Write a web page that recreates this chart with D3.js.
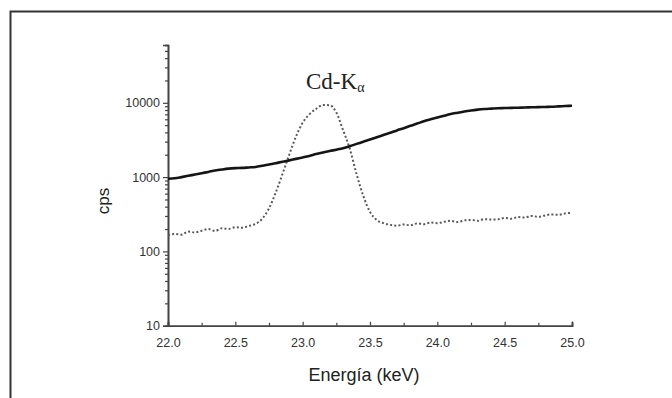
<!DOCTYPE html>
<html>
<head>
<meta charset="utf-8">
<script src="https://cdn.jsdelivr.net/npm/d3@7"></script>
<style>
  body { margin: 0; background: #fff; }
  .axis path, .axis line { stroke: #444; }
  .axis text { font-family: "Liberation Sans", Arial, sans-serif; font-size: 12.5px; fill: #333; }
</style>
</head>
<body>
<div id="chart"></div>
<script>
// energy grid (keV)
let energy = [22.00, 22.05, 22.10, 22.15, 22.20, 22.25, 22.30, 22.35, 22.40, 22.45,
  22.50, 22.55, 22.60, 22.65, 22.70, 22.75, 22.80, 22.85, 22.90, 22.95,
  23.00, 23.05, 23.10, 23.15, 23.20, 23.25, 23.30, 23.35, 23.40, 23.45,
  23.50, 23.55, 23.60, 23.65, 23.70, 23.75, 23.80, 23.85, 23.90, 23.95,
  24.00, 24.05, 24.10, 24.15, 24.20, 24.25, 24.30, 24.35, 24.40, 24.45,
  24.50, 24.55, 24.60, 24.65, 24.70, 24.75, 24.80, 24.85, 24.90, 24.95, 25.00];

// solid trace (cps)
let solidCps = [950, 965, 1000, 1040, 1085, 1130, 1175, 1225, 1265, 1300,
  1320, 1330, 1350, 1370, 1420, 1480, 1540, 1610, 1680, 1760,
  1840, 1930, 2040, 2140, 2240, 2340, 2450, 2600, 2800, 3000,
  3200, 3450, 3700, 3950, 4250, 4550, 4900, 5250, 5650, 6000,
  6350, 6700, 7050, 7350, 7650, 7900, 8100, 8250, 8350, 8450,
  8500, 8550, 8600, 8650, 8700, 8750, 8800, 8850, 8950, 9050, 9150];

// dotted trace (cps) with the Cd-K alpha peak
let dottedCps = [165, 172, 168, 185, 180, 190, 200, 188, 205, 200,
  212, 208, 220, 235, 275, 380, 620, 1100, 2000, 3500,
  5400, 7000, 8300, 9350, 9300, 7400, 4300, 2400, 1100, 560,
  340, 265, 240, 228, 222, 230, 225, 238, 232, 245,
  240, 250, 258, 248, 262, 265, 258, 272, 268, 270,
  282, 275, 290, 285, 300, 292, 305, 315, 310, 325, 330];

let xTicks = [22.0, 22.5, 23.0, 23.5, 24.0, 24.5, 25.0];
let xMinorTicks = [22.25, 22.75, 23.25, 23.75, 24.25, 24.75];
let yTicks = [10, 100, 1000, 10000];

let width = 672, height = 398;
let margin = { top: 45, right: 100, bottom: 72, left: 168 };

let svg = d3.select("#chart").append("svg")
  .attr("width", width)
  .attr("height", height);

// outer frame
svg.append("rect")
  .attr("x", 10.5).attr("y", 11.5)
  .attr("width", 700).attr("height", 420)
  .attr("fill", "none")
  .attr("stroke", "#333")
  .attr("stroke-width", 2);

let x = d3.scaleLinear()
  .domain([22, 25])
  .range([margin.left, 572]);

let y = d3.scaleLog()
  .domain([10, 60000])
  .range([height - margin.bottom - 0.3, margin.top]);

// minor log ticks
let yMinor = [];
[10, 100, 1000, 10000].forEach(d => {
  for (let k = 2; k <= 9; k++) {
    if (d * k <= 60000) yMinor.push(d * k);
  }
});

let xAxis = d3.axisBottom(x)
  .tickValues(xTicks)
  .tickSize(-4)
  .tickPadding(12)
  .tickFormat(d3.format(".1f"));

let xAxisMinor = d3.axisBottom(x)
  .tickValues(xMinorTicks)
  .tickSize(-3)
  .tickFormat("");

let yAxis = d3.axisLeft(y)
  .tickValues(yTicks)
  .tickSize(5)
  .tickPadding(3)
  .tickFormat(d3.format("d"));

let yAxisMinor = d3.axisLeft(y)
  .tickValues(yMinor)
  .tickSize(3)
  .tickFormat("");

let x0 = y(10);

svg.append("g")
  .attr("class", "x axis")
  .attr("transform", "translate(0," + x0 + ")")
  .call(xAxis);

svg.append("g")
  .attr("class", "x axis")
  .attr("transform", "translate(0," + x0 + ")")
  .call(xAxisMinor);

svg.append("g")
  .attr("class", "y axis")
  .attr("transform", "translate(" + margin.left + ",0)")
  .call(yAxis);

svg.append("g")
  .attr("class", "y axis")
  .attr("transform", "translate(" + margin.left + ",0)")
  .call(yAxisMinor);

svg.selectAll(".axis path.domain").attr("stroke-width", 1.6);
svg.selectAll(".axis .tick line").attr("stroke-width", 1.2);

let line = d3.line()
  .x(d => x(d[0]))
  .y(d => y(d[1]))
  .curve(d3.curveMonotoneX);

svg.append("path")
  .attr("d", line(d3.zip(energy, dottedCps)))
  .attr("fill", "none")
  .attr("stroke", "#5a5a5a")
  .attr("stroke-width", 2)
  .attr("stroke-dasharray", "2,2.2");

svg.append("path")
  .attr("d", line(d3.zip(energy, solidCps)))
  .attr("fill", "none")
  .attr("stroke", "#151515")
  .attr("stroke-width", 2.6);

// labels
svg.append("text")
  .attr("transform", "translate(109,201) rotate(-90)")
  .attr("text-anchor", "middle")
  .attr("font-family", "Liberation Sans, Arial, sans-serif")
  .attr("font-size", 17)
  .attr("fill", "#222")
  .text("cps");

svg.append("text")
  .attr("x", 364).attr("y", 381)
  .attr("text-anchor", "middle")
  .attr("font-family", "Liberation Sans, Arial, sans-serif")
  .attr("font-size", 18)
  .attr("fill", "#222")
  .text("Energía (keV)");

let title = svg.append("text")
  .attr("x", 306).attr("y", 89)
  .attr("font-family", "Liberation Serif, Times New Roman, serif")
  .attr("font-size", 23)
  .attr("fill", "#222");
title.append("tspan").text("Cd-K");
title.append("tspan")
  .attr("dy", 3)
  .attr("font-size", 14)
  .text("α");
</script>
</body>
</html>
